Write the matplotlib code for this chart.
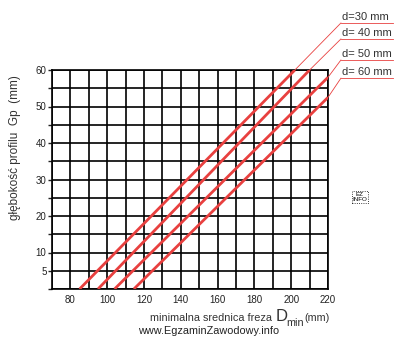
import matplotlib
matplotlib.use("Agg")
import matplotlib.pyplot as plt
import numpy as np

srednice_d = [30, 40, 50, 60]
d_etykiety = ["d=30 mm", "d= 40 mm", "d= 50 mm", "d= 60 mm"]
x_poczatek = [85, 95, 104, 114.5]      # Dmin przy Gp = 0
x_koniec = [202, 210, 220, 220]        # koniec linii w siatce
y_koniec = [60, 60, 58, 52.5]

x_ticks = [80, 100, 120, 140, 160, 180, 200, 220]
y_ticks = [5, 10, 20, 30, 40, 50, 60]

RED = "#e8403f"

plt.rcParams["font.family"] = ["Liberation Sans", "DejaVu Sans"]

fig = plt.figure(figsize=(4.06, 3.40), dpi=100)
W, H = 406, 340
ax = fig.add_axes([52 / W, 51 / H, 276 / W, 219 / H])

ax.set_xlim(70, 220)
ax.set_ylim(0, 60)

# siatka co 10 mm / 5 mm
ax.set_xticks(np.arange(70, 221, 10), minor=True)
ax.set_yticks(np.arange(0, 61, 5), minor=True)
ax.set_xticks(x_ticks)
ax.set_yticks(y_ticks)
ax.grid(which="both", color="black", linewidth=1.2)
ax.set_axisbelow(True)
for s in ax.spines.values():
    s.set_linewidth(1.2)

ax.tick_params(axis="x", which="both", length=0, pad=4, labelsize=7, colors="#222222")
ax.tick_params(axis="y", which="both", length=3, width=1.0, pad=1, labelsize=7, colors="#222222")

# linie nomogramu i odnośniki
lab_y = [1.215, 1.142, 1.046, 0.963]
for i in range(len(srednice_d)):
    ax.plot([x_poczatek[i], x_koniec[i]], [0, y_koniec[i]], color=RED,
            linewidth=2.0, solid_capstyle="butt", zorder=3)
    ax.annotate("", xy=(x_koniec[i], y_koniec[i]), xycoords="data",
                xytext=(1.047, lab_y[i]), textcoords="axes fraction",
                arrowprops=dict(arrowstyle="-", color=RED, lw=0.6,
                                shrinkA=0, shrinkB=0),
                annotation_clip=False)
    ax.plot([1.047, 1.236], [lab_y[i], lab_y[i]], color=RED, lw=0.6,
            transform=ax.transAxes, clip_on=False)
    ax.text(1.05, lab_y[i] + 0.012, d_etykiety[i], transform=ax.transAxes,
            fontsize=8, color="#333333", va="baseline", ha="left")

# opisy osi
fig.text(15 / W, 1 - 148 / H, "głębokość profilu  Gp  (mm)", rotation=90,
         ha="center", va="center", fontsize=8.5, color="#333333")
fig.text(150 / W, 1 - 321 / H, "minimalna srednica freza", fontsize=7.8,
         color="#333333", va="baseline")
fig.text(276 / W, 1 - 321 / H, "D", fontsize=12, color="#333333", va="baseline")
fig.text(286 / W, 1 - 326 / H, "min", fontsize=7.8, color="#333333", va="baseline")
fig.text(304 / W, 1 - 321 / H, "(mm)", fontsize=7.8, color="#333333", va="baseline")
fig.text(209 / W, 1 - 331 / H, "www.EgzaminZawodowy.info", fontsize=7.8,
         color="#222222", ha="center", va="center")

fig.text(360 / W, 1 - 197 / H, "EZ\nINFO", fontsize=4.5, ha="center", va="center",
         linespacing=0.9,
         bbox=dict(boxstyle="square,pad=0.15", fc="none", ec="black", ls=":", lw=0.6))

fig.savefig("out.png", dpi=100)
